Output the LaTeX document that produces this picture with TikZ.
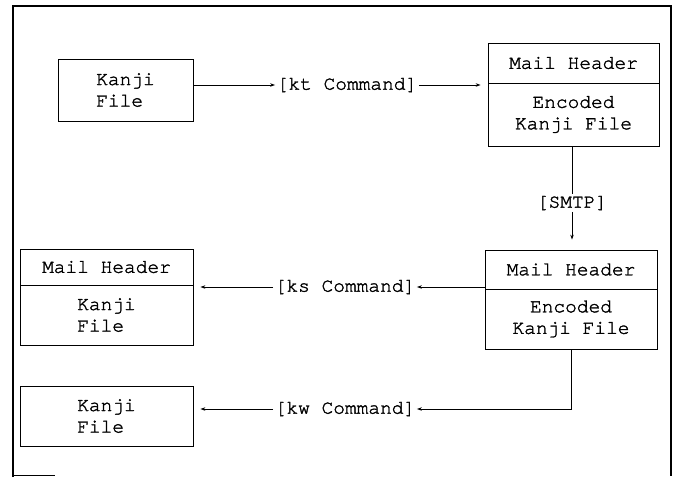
\documentclass[tikz,border=0pt]{standalone}
\usepackage{fontspec}
\setmonofont[FakeBold=1.6]{TeX Gyre Cursor}
\usetikzlibrary{arrows.meta}
\begin{document}
\begin{tikzpicture}[x=1pt,y=-1pt,
  every node/.style={font=\ttfamily\fontsize{19.5}{21.5}\selectfont},
  box/.style={draw,line width=0.8pt,inner sep=0pt,rectangle},
  lbl/.style={inner sep=1.5pt,fill=white},
  arr/.style={line width=0.8pt,-{Stealth[length=5pt,width=3.5pt]}},
  con/.style={line width=0.8pt},
  frame/.style={line width=1.6pt}]
\useasboundingbox (0,0) rectangle (679,477);
\fill[white] (0,0) rectangle (679,477);
% outer frame
\draw[frame] (13,477) -- (13,6) -- (671,6) -- (671,476);
\draw[line width=1pt] (13,475) -- (55,475);
% boxes
\node[box,minimum width=135pt,minimum height=62pt,align=left] (b1) at (125.5,90) {Kanji\\File};
\node[box,minimum width=171pt,minimum height=40pt] (h2) at (573.5,63) {Mail Header};
\node[box,minimum width=171pt,minimum height=63pt,align=center] (b2) at (573.5,114.5) {Encoded\\Kanji File};
\node[box,minimum width=172pt,minimum height=39pt] (h3) at (571,269.5) {Mail Header};
\node[box,minimum width=172pt,minimum height=60pt,align=center] (b3) at (571,319) {Encoded\\Kanji File};
\node[box,minimum width=173pt,minimum height=36pt] (h4) at (106.5,267) {Mail Header};
\node[box,minimum width=173pt,minimum height=60pt,align=left] (b4) at (106.5,315) {Kanji\\File};
\node[box,minimum width=173pt,minimum height=60pt,align=left] (b5) at (106.5,416) {Kanji\\File};
% labels
\node[lbl] (kt) at (347,85) {[kt Command]};
\node[lbl] (smtp) at (572,203) {[SMTP]};
\node[lbl] (ks) at (345,287) {[ks Command]};
\node[lbl] (kw) at (345,409) {[kw Command]};
% connectors
\draw[arr] (kt -| b1.east) -- (kt.west);
\draw[arr,shorten >=7pt] (kt.east) -- (kt -| h2.west);
\draw[con] (b2.south -| smtp) -- (smtp.north);
\draw[arr,shorten >=10pt] (smtp.south) -- (smtp |- h3.north);
\draw[arr] (ks -| b3.west) -- (ks.east);
\draw[arr,shorten >=7pt] (ks.west) -- (ks -| h4.east);
\draw[arr] (b3.south) |- (kw.east);
\draw[arr,shorten >=7pt] (kw.west) -- (kw -| b5.east);
\end{tikzpicture}
\end{document}
